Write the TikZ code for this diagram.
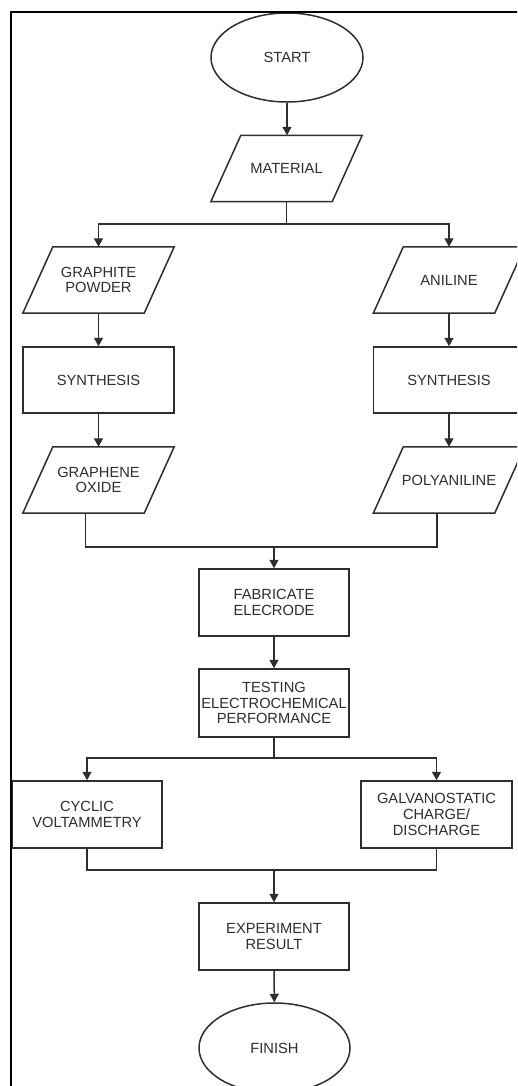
\documentclass[tikz,border=0pt]{standalone}
\usepackage{fontspec}
\setmainfont{Liberation Sans}
\usetikzlibrary{arrows.meta,shapes.geometric}
\definecolor{ink}{HTML}{2E2E2E}
\begin{document}
\begin{tikzpicture}[x=1pt,y=-1pt,
  ln/.style={draw=ink, line width=1.5pt},
  arr/.style={ln, -{Triangle[length=8.5pt,width=9pt]}},
  txt/.style={text=ink, font=\fontsize{14.7}{15.7}\selectfont, align=center, inner sep=0pt},
  term/.style={txt, ellipse, ln, minimum width=152pt, minimum height=89pt},
  proc/.style={txt, rectangle, ln, minimum width=150pt, minimum height=67pt},
  para/.style={txt, rectangle, minimum width=151pt, minimum height=66pt}]
\useasboundingbox (0,0) rectangle (517,1086);
\begin{scope}
\clip (0,0) rectangle (517,1086);
\fill[white] (0,0) rectangle (517,1086);
% nodes
\node[term] (start) at (287,57.5) {START};
\node[para] (mat) at (286.5,168.5) {MATERIAL};
\node[para] (gp) at (98.5,280) {GRAPHITE\\POWDER};
\node[para] (ani) at (449,280) {ANILINE};
\node[proc,minimum width=151pt,minimum height=66pt] (syn1) at (98.5,380) {SYNTHESIS};
\node[proc,minimum width=151pt,minimum height=66pt] (syn2) at (449,380) {SYNTHESIS};
\node[para] (go) at (98.5,480) {GRAPHENE\\OXIDE};
\node[para] (pani) at (449,480) {POLYANILINE};
\node[proc] (fab) at (274,602.5) {FABRICATE\\ELECRODE};
\node[proc,minimum height=68pt] (test) at (274,703) {TESTING\\ELECTROCHEMICAL\\PERFORMANCE};
\node[proc] (cv) at (87,814.5) {CYCLIC\\VOLTAMMETRY};
\node[proc,minimum width=151pt] (gcd) at (436.5,814.5) {GALVANOSTATIC\\CHARGE/\\DISCHARGE};
\node[proc] (exp) at (274,936.5) {EXPERIMENT\\RESULT};
\node[term,minimum width=151pt,minimum height=90pt] (fin) at (274.5,1048) {FINISH};
% parallelogram outlines
\foreach \n in {mat,gp,ani,go,pani}
  \draw[ln, line join=miter] ([xshift=30pt]\n.north west) -- (\n.north east)
     -- ([xshift=-30pt]\n.south east) -- (\n.south west) -- cycle;
% connectors
\coordinate (j1) at (286.5,224);
\coordinate (j2) at (274,547);
\coordinate (j3) at (274,758);
\coordinate (j4) at (274,870);
\draw[arr] (start.south) -- (start.south |- mat.north);
\draw[ln] (mat.south) -- (j1);
\draw[arr] (j1) -| (gp.north);
\draw[arr] (j1) -| (ani.north);
\draw[arr] (gp) -- (syn1);
\draw[arr] (syn1) -- (go);
\draw[arr] (ani) -- (syn2);
\draw[arr] (syn2) -- (pani);
\draw[ln] ([xshift=-13pt]go.south) |- (j2);
\draw[ln] ([xshift=-12pt]pani.south) |- (j2);
\draw[arr] (j2) -- (fab.north);
\draw[arr] (fab) -- (test);
\draw[ln] (test.south) -- (j3);
\draw[arr] (j3) -| (cv.north);
\draw[arr] (j3) -| (gcd.north);
\draw[ln] (cv.south) |- (j4);
\draw[ln] (gcd.south) |- (j4);
\draw[arr] (j4) -- (exp.north);
\draw[arr] (exp) -- (fin);
% frame
\draw[black, line width=2.3pt] (530,11.7) -- (11.3,11.7) -- (11.3,1100);
\end{scope}
\end{tikzpicture}
\end{document}
